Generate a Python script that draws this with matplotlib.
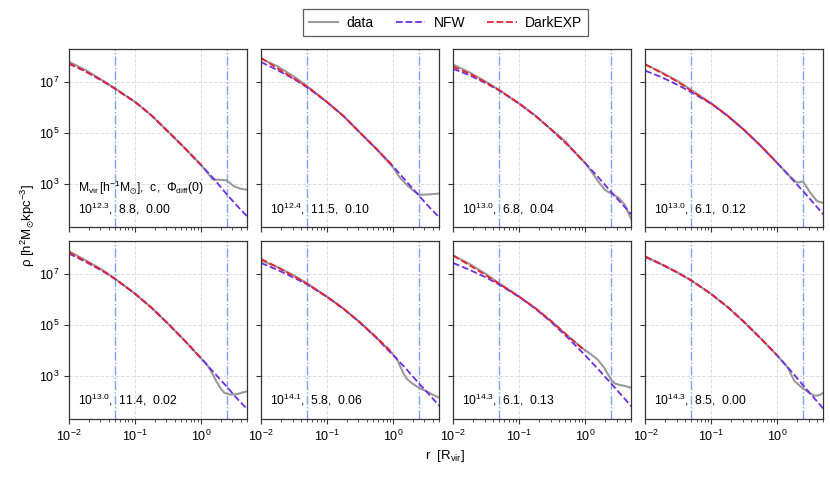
import numpy as np
import matplotlib
matplotlib.use("Agg")
import matplotlib.pyplot as plt
from matplotlib.ticker import LogLocator, NullFormatter, NullLocator

plt.rcParams['font.family'] = ['Liberation Sans', 'DejaVu Sans']
plt.rcParams['mathtext.fontset'] = 'custom'
plt.rcParams['mathtext.rm'] = 'Liberation Sans'
plt.rcParams['mathtext.it'] = 'Liberation Sans:italic'
plt.rcParams['mathtext.default'] = 'regular'

# panel parameters: log10 Mvir, concentration, Phi_diff(0)
log_mvir = ['12.3', '12.4', '13.0', '13.0', '13.0', '14.1', '14.3', '14.3']
conc = ['8.8', '11.5', '6.8', '6.1', '11.4', '5.8', '6.1', '8.5']
phi_diff = ['0.00', '0.10', '0.04', '0.12', '0.02', '0.06', '0.13', '0.00']

# log10 r / Rvir grid for the fitted profiles
logr_fit = [-2, -1.75, -1.5, -1.3, -1, -0.75, -0.5, -0.25, 0, 0.2, 0.4, 0.55, 0.7]
logr_dexp = logr_fit[:9]

# log10 rho of NFW fits
nfw = [
    [7.72, 7.42, 7.06, 6.74, 6.23, 5.70, 5.07, 4.43, 3.76, 3.20, 2.58, 2.15, 1.74],
    [7.79, 7.47, 7.12, 6.79, 6.22, 5.67, 5.02, 4.38, 3.70, 3.12, 2.53, 2.10, 1.70],
    [7.52, 7.27, 6.95, 6.67, 6.16, 5.67, 5.11, 4.50, 3.83, 3.27, 2.68, 2.25, 1.82],
    [7.45, 7.19, 6.88, 6.60, 6.15, 5.67, 5.12, 4.50, 3.83, 3.27, 2.70, 2.26, 1.81],
    [7.79, 7.47, 7.12, 6.79, 6.22, 5.67, 5.05, 4.39, 3.69, 3.12, 2.55, 2.10, 1.70],
    [7.42, 7.15, 6.84, 6.58, 6.09, 5.62, 5.08, 4.48, 3.81, 3.27, 2.68, 2.26, 1.82],
    [7.42, 7.15, 6.85, 6.57, 6.09, 5.62, 5.07, 4.46, 3.80, 3.25, 2.68, 2.24, 1.80],
    [7.66, 7.36, 7.03, 6.73, 6.20, 5.69, 5.10, 4.46, 3.79, 3.21, 2.60, 2.15, 1.71],
]

# log10 rho of DarkEXP fits (only out to Rvir)
dexp = [
    [7.74, 7.43, 7.07, 6.74, 6.23, 5.70, 5.07, 4.43, 3.76],
    [7.95, 7.54, 7.14, 6.82, 6.22, 5.67, 5.02, 4.38, 3.72],
    [7.61, 7.33, 6.98, 6.68, 6.16, 5.67, 5.11, 4.50, 3.83],
    [7.69, 7.36, 7.00, 6.65, 6.16, 5.68, 5.12, 4.50, 3.83],
    [7.84, 7.50, 7.14, 6.80, 6.22, 5.67, 5.05, 4.39, 3.70],
    [7.58, 7.25, 6.90, 6.60, 6.09, 5.63, 5.09, 4.50, 3.88],
    [7.71, 7.33, 6.93, 6.60, 6.10, 5.64, 5.11, 4.53, 3.97],
    [7.67, 7.37, 7.03, 6.73, 6.20, 5.69, 5.10, 4.46, 3.80],
]

# simulation data profiles (log10 r, log10 rho)
data_logr = [
    [-2, -1.75, -1.5, -1.3, -1, -0.75, -0.5, -0.25, 0, 0.1, 0.18, 0.3, 0.39, 0.5, 0.6, 0.7],
    [-2, -1.75, -1.5, -1.3, -1, -0.75, -0.5, -0.25, 0, 0.1, 0.2, 0.3, 0.4, 0.55, 0.7],
    [-2, -1.75, -1.5, -1.3, -1, -0.75, -0.5, -0.4, -0.3, -0.2, 0, 0.1, 0.2, 0.3, 0.4, 0.5, 0.6, 0.7],
    [-2, -1.75, -1.5, -1.3, -1, -0.75, -0.5, -0.25, 0, 0.1, 0.2, 0.3, 0.39, 0.5, 0.6, 0.7],
    [-2, -1.75, -1.5, -1.3, -1, -0.75, -0.5, -0.25, 0, 0.08, 0.15, 0.23, 0.3, 0.36, 0.45, 0.55, 0.7],
    [-2, -1.75, -1.5, -1.3, -1, -0.75, -0.5, -0.25, 0, 0.05, 0.1, 0.16, 0.21, 0.3, 0.4, 0.5, 0.6, 0.7],
    [-2, -1.75, -1.5, -1.3, -1, -0.75, -0.5, -0.25, 0, 0.1, 0.19, 0.29, 0.39, 0.45, 0.52, 0.6, 0.7],
    [-2, -1.75, -1.5, -1.3, -1, -0.75, -0.5, -0.25, 0, 0.1, 0.16, 0.26, 0.39, 0.5, 0.58, 0.65, 0.7],
]
data_logrho = [
    [7.80, 7.48, 7.08, 6.75, 6.23, 5.70, 5.07, 4.43, 3.76, 3.45, 3.18, 3.17, 3.15, 2.92, 2.82, 2.78],
    [7.92, 7.62, 7.22, 6.84, 6.22, 5.67, 5.02, 4.38, 3.66, 3.27, 3.00, 2.76, 2.58, 2.60, 2.63],
    [7.69, 7.38, 7.01, 6.69, 6.16, 5.68, 5.11, 4.90, 4.68, 4.38, 3.83, 3.48, 3.10, 2.78, 2.62, 2.48, 2.20, 1.62],
    [7.70, 7.38, 7.03, 6.69, 6.17, 5.68, 5.12, 4.50, 3.83, 3.55, 3.28, 3.06, 3.10, 2.67, 2.34, 2.26],
    [7.88, 7.53, 7.16, 6.80, 6.22, 5.67, 5.05, 4.39, 3.69, 3.48, 3.20, 2.80, 2.50, 2.32, 2.26, 2.28, 2.39],
    [7.52, 7.26, 6.93, 6.62, 6.10, 5.63, 5.09, 4.49, 3.84, 3.70, 3.42, 3.08, 2.88, 2.68, 2.52, 2.40, 2.26, 2.14],
    [7.72, 7.38, 6.98, 6.62, 6.10, 5.64, 5.11, 4.53, 4.00, 3.82, 3.63, 3.31, 2.86, 2.70, 2.64, 2.60, 2.52],
    [7.66, 7.36, 7.03, 6.73, 6.20, 5.69, 5.10, 4.46, 3.79, 3.50, 3.31, 2.79, 2.50, 2.30, 2.21, 2.25, 2.34],
]

r_inner = 0.05
r_outer = 2.5

c_data = '#9a9a9a'
c_nfw = '#6e2ee6'
c_dexp = '#ec2230'
c_vline = '#78a4ff'

fig, axes = plt.subplots(2, 4, figsize=(8.3, 4.8), dpi=100, sharex=True, sharey=True)
plt.subplots_adjust(left=0.083, right=0.992, top=0.898, bottom=0.127, wspace=0.079, hspace=0.073)

for i, ax in enumerate(axes.flat):
    ax.set_xscale('log')
    ax.set_yscale('log')
    ax.grid(True, which='major', color='#dddddd', linestyle='--', linewidth=0.7)
    ax.set_axisbelow(True)
    ax.axvline(r_inner, color=c_vline, linestyle='-.', linewidth=1.0)
    ax.axvline(r_outer, color=c_vline, linestyle='-.', linewidth=1.0)

    ax.plot(10 ** np.array(data_logr[i]), 10 ** np.array(data_logrho[i]),
            color=c_data, lw=1.5, label='data')
    ax.plot(10 ** np.array(logr_fit), 10 ** np.array(nfw[i]),
            color=c_nfw, lw=1.3, ls='--', label='NFW')
    ax.plot(10 ** np.array(logr_dexp), 10 ** np.array(dexp[i]),
            color=c_dexp, lw=1.3, ls='--', label='DarkEXP')

    txt = '$10^{%s}$,  %s,  %s' % (log_mvir[i], conc[i], phi_diff[i])
    if i == 0:
        txt = r'$M_{vir}\,[h^{-1}M_{\odot}]$,  c,  $\Phi_{diff}(0)$' + '\n' + txt
    ax.text(0.05, 0.08, txt, transform=ax.transAxes, fontsize=8.7,
            ha='left', va='baseline', linespacing=1.25)

    ax.set_xlim(0.01, 5)
    ax.set_ylim(20, 2e8)
    ax.yaxis.set_major_locator(plt.FixedLocator([1e3, 1e5, 1e7]))
    ax.yaxis.set_minor_locator(NullLocator())
    ax.xaxis.set_major_locator(LogLocator(base=10))
    ax.xaxis.set_minor_locator(LogLocator(base=10, subs=np.arange(2, 10)))
    ax.xaxis.set_minor_formatter(NullFormatter())
    ax.tick_params(which='both', direction='out', labelsize=9, color='#333333')
    ax.tick_params(which='major', length=3.5, width=0.8)
    ax.tick_params(which='minor', length=2, width=0.6)
    for s in ax.spines.values():
        s.set_color('#333333')
        s.set_linewidth(0.9)

handles, labels = axes[0, 0].get_legend_handles_labels()
leg = fig.legend(handles, labels, loc='upper center', bbox_to_anchor=(0.537, 0.995),
                 ncol=3, fontsize=10, frameon=True, fancybox=False,
                 handlelength=2.1, handletextpad=0.6, columnspacing=1.6, borderpad=0.45)
leg.get_frame().set_edgecolor('#333333')
leg.get_frame().set_linewidth(0.9)

fig.text(0.536, 0.05, r'r  [$R_{vir}$]', ha='center', va='center', fontsize=9.5)
fig.text(0.034, 0.531, r'ρ [$h^{2}M_{\odot}kpc^{-3}$]', ha='center', va='center',
         rotation=90, fontsize=9.5)

fig.savefig('out.png', dpi=100)
